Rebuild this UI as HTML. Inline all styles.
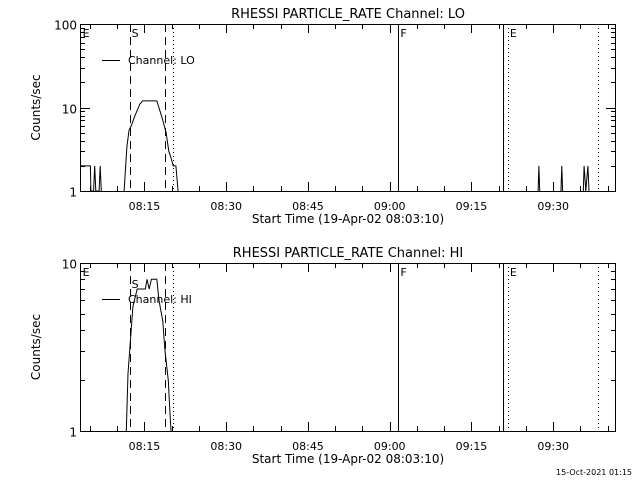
<!DOCTYPE html>
<html><head><meta charset="utf-8"><style>
html,body{margin:0;padding:0;background:#fff;}
svg{display:block;font-family:"DejaVu Sans","Liberation Sans",sans-serif;}
</style></head><body>
<svg id="chart" width="640" height="480" viewBox="0 0 640 480">
<text x="632" y="475" font-size="8" text-anchor="end">15-Oct-2021 01:15</text>
</svg>
<script>
// minutes since 08:03:10
const loTimes = [0, 1.9, 2.0, 2.5, 2.7, 2.9, 3.5, 3.7, 3.9, 4.3, 7.9, 8.1, 8.6, 9.0, 9.4, 10.1, 11.0, 11.5, 12.5, 14.1, 14.7, 15.2, 15.8, 16.3, 16.7, 17.1, 17.6, 18.0, 18.1, 83.9, 84.2, 84.5, 88.1, 88.4, 88.7, 92.2, 92.5, 92.8, 93.2, 93.6, 94];
const loValues = [2, 2, 1, 1, 2, 1, 1, 2, 1, 0.5, 0.5, 1, 3.4, 5.4, 6, 8, 11, 12, 12, 12, 9, 7, 5, 3, 2.5, 2, 2, 1, 0.5, 0.5, 2, 0.5, 0.5, 2, 0.5, 0.5, 2, 1, 2, 0.5, 0.5];
const hiTimes = [0, 8.4, 8.5, 8.8, 9.4, 9.7, 10.5, 12.0, 12.3, 12.7, 13.1, 13.6, 14.1, 14.5, 15.2, 15.6, 16.2, 16.5, 16.7, 16.8];
const hiValues = [0.5, 0.5, 1, 2.2, 4, 5.5, 7, 7, 8, 7, 8, 8, 8, 6, 4.5, 3, 2, 1.3, 1, 0.5];
const xTickMinutes = [11.83, 26.83, 41.83, 56.83, 71.83, 86.83];
const xTickLabels = ["08:15", "08:30", "08:45", "09:00", "09:15", "09:30"];
const markerTimes = [9.17, 15.6, 17.06, 58.35, 77.6, 78.5, 95.0];
const markerStyles = ["dash", "dash", "dot", "solid", "solid", "dot", "dot"];
const markerLabelTimes = [0.3, 9.3, 58.6, 78.7];
const markerLabels = ["E", "S", "F", "E"];

const NS = "http://www.w3.org/2000/svg";
const svg = document.getElementById("chart");
const X0 = 80, X1 = 616, PXMIN = 5.45;
function xs(m){ return X0 + m * PXMIN; }
function mk(tag, attrs, parent){
  const e = document.createElementNS(NS, tag);
  for (const k in attrs) e.setAttribute(k, attrs[k]);
  (parent || svg).appendChild(e);
  return e;
}
function panel(id, top, bottom, decades, times, values, title, chan, sLabelY){
  const g = mk("g", {});
  
  
  const ys = v => bottom - Math.log10(v) / decades * (bottom - top);
  const clip = mk("clipPath", {id: "clip-" + id}, g);
  mk("rect", {x: X0, y: top, width: X1 - X0, height: bottom - top}, clip);
  const t = mk("text", {x: 348, y: top - 6, "font-size": 13, "text-anchor": "middle"}, g);
  t.textContent = title;
  
  
  // frame
  const fr = mk("rect", {x: X0 + 0.5, y: top + 0.5, width: X1 - X0 - 1, height: bottom - top, fill: "none", stroke: "#000"}, g);
  
  
  // x ticks
  for (let m = 1.83; xs(m) < X1; m += 5) {
    const major = xTickMinutes.some(v => Math.abs(v - m) < 0.01);
    const L = major ? 9 : 5, x = Math.round(xs(m)) + 0.5;
    mk("line", {x1: x, x2: x, y1: bottom, y2: bottom - L, stroke: "#000"}, g);
    mk("line", {x1: x, x2: x, y1: top, y2: top + L, stroke: "#000"}, g);
  }
  xTickMinutes.forEach((m, i) => {
    const tl = mk("text", {x: xs(m), y: bottom + 19, "font-size": 11, "text-anchor": "middle"}, g);
    tl.textContent = xTickLabels[i];
    
    
  });
  const xt = mk("text", {x: 348, y: bottom + 32, "font-size": 12, "text-anchor": "middle"}, g);
  xt.textContent = "Start Time (19-Apr-02 08:03:10)";
  
  
  // y ticks
  for (let d = 0; d <= decades; d++) {
    const base = Math.pow(10, d);
    const y = Math.round(ys(base)) + 0.5;
    mk("line", {x1: X0, x2: X0 + 10, y1: y, y2: y, stroke: "#000"}, g);
    mk("line", {x1: X1, x2: X1 - 10, y1: y, y2: y, stroke: "#000"}, g);
    const yl = mk("text", {x: X0 - 3, y: y + 5, "font-size": 12, "text-anchor": "end"}, g);
    yl.textContent = String(base);
    
    
    if (d < decades) for (let k = 2; k <= 9; k++) {
      const yy = Math.round(ys(base * k)) + 0.5;
      mk("line", {x1: X0, x2: X0 + 5, y1: yy, y2: yy, stroke: "#000"}, g);
      mk("line", {x1: X1, x2: X1 - 5, y1: yy, y2: yy, stroke: "#000"}, g);
    }
  }
  const yt = mk("text", {x: 0, y: 0, "font-size": 12, "text-anchor": "middle", transform: `translate(${X0 - 40},${(top + bottom) / 2}) rotate(-90)`}, g);
  yt.textContent = "Counts/sec";
  
  
  // markers
  markerTimes.forEach((m, i) => {
    const x = Math.round(xs(m)) + 0.5;
    const st = markerStyles[i];
    const ln = mk("line", {x1: x, x2: x, y1: top, y2: bottom, stroke: "#000", "stroke-dasharray": st === "dash" ? "8,5" : st === "dot" ? "1,3" : "none"}, g);
    
    
  });
  markerLabelTimes.forEach((m, i) => {
    const ml = mk("text", {x: xs(m) + 1, y: (i === 1 ? sLabelY : top + 13), "font-size": 11}, g);
    ml.textContent = markerLabels[i];
    
    
  });
  // series
  const pts = times.map((m, i) => xs(m).toFixed(1) + "," + ys(values[i]).toFixed(1)).join(" ");
  const pl = mk("polyline", {points: pts, fill: "none", stroke: "#000", "stroke-width": 1, "clip-path": `url(#clip-${id})`}, g);
  
  
  // legend
  const lg = mk("g", {}, g);
  
  
  mk("line", {x1: 102, x2: 120, y1: top + 36.5, y2: top + 36.5, stroke: "#000"}, lg);
  const lt = mk("text", {x: 128, y: top + 40, "font-size": 11}, lg);
  lt.textContent = "Channel: " + chan;
}
panel("lo", 24, 191, 2, loTimes, loValues, "RHESSI PARTICLE_RATE Channel: LO", "LO", 37);
panel("hi", 263, 431, 1, hiTimes, hiValues, "RHESSI PARTICLE_RATE Channel: HI", "HI", 288);
</script>
</body></html>
